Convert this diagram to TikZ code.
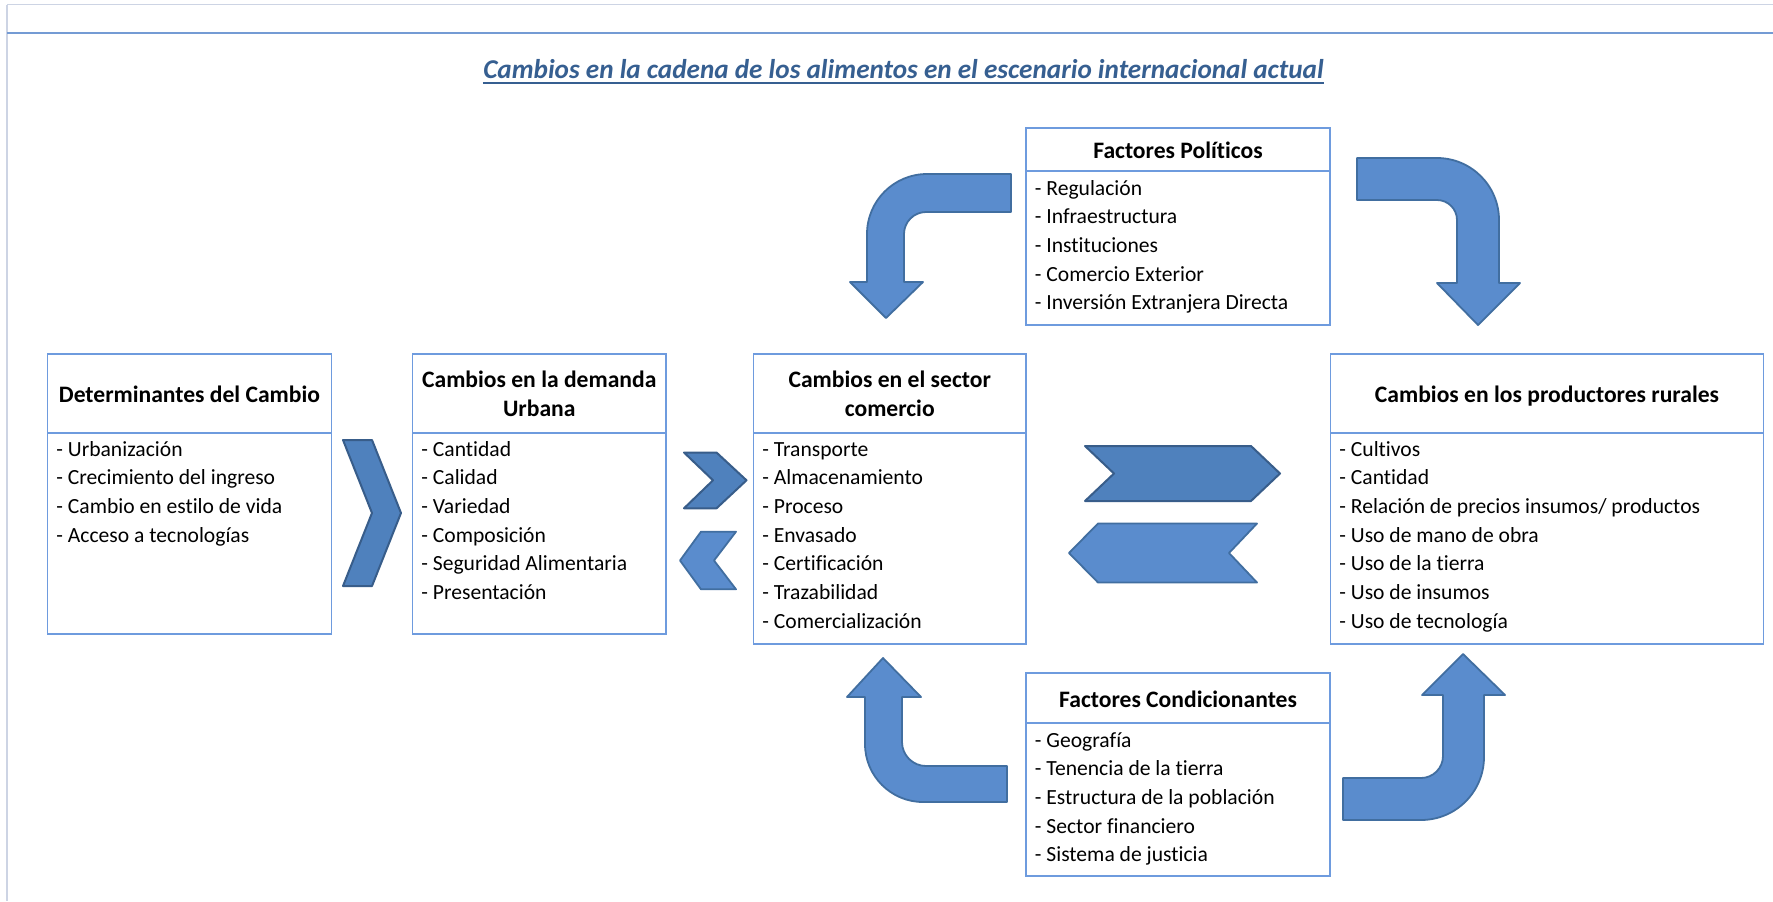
\documentclass[tikz,border=0pt]{standalone}
\usepackage{fontspec}
\setmainfont{Carlito}[Ligatures={NoCommon}]
\definecolor{framegray}{RGB}{205,212,228}
\definecolor{rulblue}{RGB}{116,155,212}
\definecolor{boxblue}{RGB}{110,155,222}
\definecolor{titleblue}{RGB}{54,95,145}
\definecolor{darkfill}{RGB}{79,129,189}
\definecolor{darkedge}{RGB}{56,93,138}
\definecolor{lightfill}{RGB}{90,140,205}
\definecolor{lightedge}{RGB}{65,110,160}
\begin{document}
\begin{tikzpicture}[x=0.5pt,y=-0.5pt,
  box/.style={draw=boxblue, line width=0.8pt, fill=white, inner sep=0pt},
  divline/.style={draw=boxblue, line width=0.8pt},
  hdr/.style={anchor=base, inner sep=0pt, font=\fontsize{11.8}{14}\selectfont\bfseries},
  item/.style={anchor=base west, inner sep=0pt, font=\fontsize{10.8}{13}\selectfont},
  darkshape/.style={fill=darkfill, draw=darkedge, line width=1pt, line join=round},
  lightshape/.style={fill=lightfill, draw=lightedge, line width=0.9pt, line join=round}]
\useasboundingbox (0,0) rectangle (1773,901);
\fill[white] (0,0) rectangle (1773,901);
% frame
\draw[framegray, line width=0.8pt] (7,4.5) -- (1773,4.5);
\draw[framegray, line width=0.8pt] (7,4.5) -- (7,901);
\draw[rulblue, line width=1pt] (7,33) -- (1773,33);
% title
\node[anchor=base, inner sep=0pt, font=\fontsize{13.6}{16}\selectfont\bfseries\itshape, text=titleblue] (title) at (903.5,78) {Cambios en la cadena de los alimentos en el escenario internacional actual};
\draw[titleblue, line width=1pt] ([yshift=-2.5pt]title.base west) -- ([yshift=-2.5pt]title.base east);

% boxes
\node[box, minimum width=142pt, minimum height=140pt] (b1) at (189.5,494) {};
\node[box, minimum width=126.75pt, minimum height=140pt] (b2) at (539.25,494) {};
\node[box, minimum width=136.25pt, minimum height=145pt] (b3) at (889.75,499) {};
\node[box, minimum width=216.5pt, minimum height=145pt] (b4) at (1547,499) {};
\node[box, minimum width=152pt, minimum height=98.5pt] (fp) at (1178,226.5) {};
\node[box, minimum width=152pt, minimum height=101.5pt] (fc) at (1178,774.5) {};
% dividers
\draw[divline] (47.5,433) -- (331.5,433);
\draw[divline] (412.5,433) -- (666,433);
\draw[divline] (753.5,433) -- (1026,433);
\draw[divline] (1330.5,433) -- (1763.5,433);
\draw[divline] (1026,171) -- (1330,171);
\draw[divline] (1026,723) -- (1330,723);

% headers
\node[hdr] (h1) at (189.5,402.5) {Determinantes del Cambio};
\node[hdr] (h2a) at (539.25,387) {Cambios en la demanda};
\node[hdr] (h2b) at (539.25,416.5) {Urbana};
\node[hdr] (h3a) at (889.75,387) {Cambios en el sector};
\node[hdr] (h3b) at (889.75,416.5) {comercio};
\node[hdr] (h4) at (1547,402.5) {Cambios en los productores rurales};
\node[hdr] (hfp) at (1178,158) {Factores Políticos};
\node[hdr] (hfc) at (1178,707) {Factores Condicionantes};

% items
\foreach \t [count=\i from 0] in {Urbanización, Crecimiento del ingreso, Cambio en estilo de vida, Acceso a tecnologías}
  \node[item] (b1i\i) at (56, {456+28.67*\i}) {- \t};
\foreach \t [count=\i from 0] in {Cantidad, Calidad, Variedad, Composición, Seguridad Alimentaria, Presentación}
  \node[item] (b2i\i) at (421, {456+28.67*\i}) {- \t};
\foreach \t [count=\i from 0] in {Transporte, Almacenamiento, Proceso, Envasado, Certificación, Trazabilidad, Comercialización}
  \node[item] (b3i\i) at (762, {456+28.67*\i}) {- \t};
\foreach \t [count=\i from 0] in {Cultivos, Cantidad, Relación de precios insumos/ productos, Uso de mano de obra, Uso de la tierra, Uso de insumos, Uso de tecnología}
  \node[item] (b4i\i) at (1339, {456+28.67*\i}) {- \t};
\foreach \t [count=\i from 0] in {Regulación, Infraestructura, Instituciones, Comercio Exterior, Inversión Extranjera Directa}
  \node[item] (fpi\i) at (1034.5, {195+28.67*\i}) {- \t};
\foreach \t [count=\i from 0] in {Geografía, Tenencia de la tierra, Estructura de la población, Sector financiero, Sistema de justicia}
  \node[item] (fci\i) at (1034.5, {747.3+28.67*\i}) {- \t};

% chevrons
\draw[darkshape] (343,440) -- (372,440) -- (401,513) -- (372,586) -- (343,586) -- (372,513) -- cycle;
\draw[darkshape] (684,452.5) -- (716.5,452.5) -- (746.5,480.3) -- (716.5,508.3) -- (684,508.3) -- (713,480.3) -- cycle;
\draw[lightshape] (680,560.5) -- (701,531.7) -- (736,531.7) -- (714,560.5) -- (736,589.3) -- (701,589.3) -- cycle;
\draw[darkshape] (1085,446) -- (1251,446) -- (1280,473.5) -- (1251,501) -- (1085,501) -- (1114,473.5) -- cycle;
\draw[lightshape] (1069,553) -- (1098,523.5) -- (1257,523.5) -- (1229,553) -- (1257,582.5) -- (1098,582.5) -- cycle;

% bent arrows
% top-left
\draw[lightshape] (1011,174) -- (927,174) .. controls (893.9,174) and (867,200.9) .. (867,234)
  -- (867,282) -- (850,282) -- (886,318) -- (923,282) -- (904,282) -- (904,234)
  .. controls (904,221.9) and (913.9,212) .. (926,212) -- (1011,212) -- cycle;
% top-right
\draw[lightshape] (1357,158) -- (1437,158) .. controls (1471.2,158) and (1499,185.8) .. (1499,220)
  -- (1499,283) -- (1520,283) -- (1478,325) -- (1437,283) -- (1457,283) -- (1457,220)
  .. controls (1457,209) and (1448,200) .. (1437,200) -- (1357,200) -- cycle;
% bottom-left
\draw[lightshape] (883,658) -- (921,697) -- (902,697) -- (902,742)
  .. controls (902,755.2) and (912.8,766) .. (926,766) -- (1007,766) -- (1007,802) -- (923,802)
  .. controls (891,802) and (865,776) .. (865,744) -- (865,697) -- (847,697) -- cycle;
% bottom-right
\draw[lightshape] (1463,654) -- (1505,695) -- (1484,695) -- (1484,757)
  .. controls (1484,791.8) and (1455.8,820) .. (1421,820) -- (1343,820) -- (1343,778) -- (1421,778)
  .. controls (1433.1,778) and (1443,768.1) .. (1443,756) -- (1443,695) -- (1422,695) -- cycle;
\end{tikzpicture}
\end{document}
